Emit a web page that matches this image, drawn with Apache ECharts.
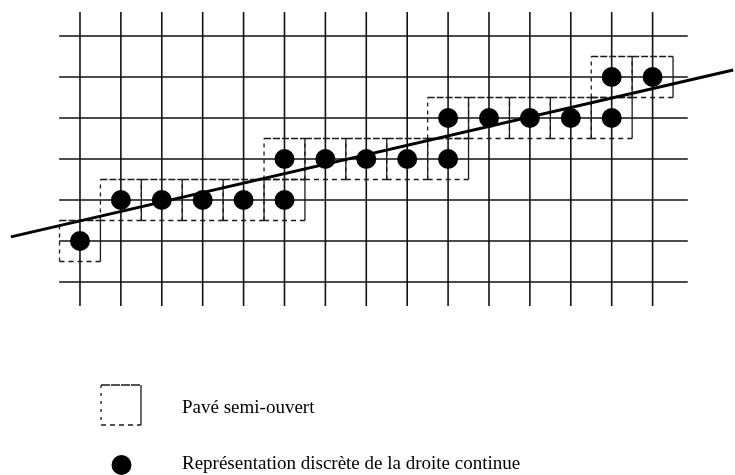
<!DOCTYPE html>
<html>
<head>
<meta charset="utf-8">
<script src="https://cdn.jsdelivr.net/npm/echarts@6/dist/echarts.min.js"></script>
<style>html,body{margin:0;padding:0;background:#fff}#c{width:735px;height:475px}</style>
</head>
<body>
<div id="c"></div>
<script>
// ---- data ----
const gridCols = [0,1,2,3,4,5,6,7,8,9,10,11,12,13,14];
const gridRows = [0,1,2,3,4,5,6];
const vLineSpan = [-0.585, 6.585];
const hLineSpan = [-0.51, 14.86];
const dotX = [0, 1,2,3,4,5, 5,6,7,8,9, 9,10,11,12,13, 13,14];
const dotY = [1, 2,2,2,2,2, 3,3,3,3,3, 4,4,4,4,4, 5,5];
const lineX = [-1.69, 15.97];
const lineY = [1.10, 5.17];
const legendLabels = ['Pavé semi-ouvert', 'Représentation discrète de la droite continue'];

const dots = dotX.map((x, i) => [x, dotY[i]]);
const INK = '#111';
const DASH = '#1a1a1a';

function seg(p1, p2, style) {
  return { type: 'line', shape: { x1: p1[0], y1: p1[1], x2: p2[0], y2: p2[1] }, style: style, silent: true };
}

const chart = echarts.init(document.getElementById('c'), null, { renderer: 'canvas' });
chart.setOption({
  animation: false,
  backgroundColor: '#fff',
  grid: { left: 8.4, width: 726, top: 5.25, height: 317.75 },
  xAxis: { type: 'value', min: -1.75, max: 16, show: false },
  yAxis: { type: 'value', min: -1, max: 6.75, show: false },
  series: [
    {
      type: 'custom', clip: false, z: 1,
      data: gridCols.map(c => [c]),
      renderItem: (params, api) => {
        const c = api.value(0);
        return seg(api.coord([c, vLineSpan[0]]), api.coord([c, vLineSpan[1]]), { stroke: INK, lineWidth: 1.6 });
      }
    },
    {
      type: 'custom', clip: false, z: 1,
      data: gridRows.map(r => [0, r]),
      renderItem: (params, api) => {
        const r = api.value(1);
        return seg(api.coord([hLineSpan[0], r]), api.coord([hLineSpan[1], r]), { stroke: INK, lineWidth: 1.6 });
      }
    },
    {
      type: 'custom', clip: false, z: 2,
      data: dots,
      renderItem: (params, api) => {
        const x = api.value(0), y = api.value(1);
        const tl = api.coord([x - 0.5, y + 0.5]);
        const tr = api.coord([x + 0.5, y + 0.5]);
        const bl = api.coord([x - 0.5, y - 0.5]);
        const br = api.coord([x + 0.5, y - 0.5]);
        return {
          type: 'group',
          children: [
            seg(tl, tr, { stroke: DASH, lineWidth: 1.3, lineDash: [7, 2] }),
            seg(tr, br, { stroke: DASH, lineWidth: 1.3 }),
            seg(bl, tl, { stroke: DASH, lineWidth: 1.3, lineDash: [4, 4] }),
            seg(bl, br, { stroke: DASH, lineWidth: 1.3, lineDash: [5, 4] })
          ]
        };
      }
    },
    {
      type: 'line', z: 3, clip: false,
      data: lineX.map((x, i) => [x, lineY[i]]),
      symbol: 'none',
      lineStyle: { color: '#000', width: 3 }
    },
    {
      type: 'scatter', z: 4,
      data: dots,
      symbol: 'circle', symbolSize: 20,
      itemStyle: { color: '#000', opacity: 1 }
    }
  ],
  graphic: [
    { type: 'line', shape: { x1: 101, y1: 385, x2: 141, y2: 385 }, style: { stroke: DASH, lineWidth: 1.3, lineDash: [9, 1] } },
    { type: 'line', shape: { x1: 141, y1: 385, x2: 141, y2: 425 }, style: { stroke: DASH, lineWidth: 1.3 } },
    { type: 'line', shape: { x1: 101, y1: 385, x2: 101, y2: 425 }, style: { stroke: DASH, lineWidth: 1.3, lineDash: [3, 5] } },
    { type: 'line', shape: { x1: 101, y1: 425, x2: 141, y2: 425 }, style: { stroke: DASH, lineWidth: 1.3, lineDash: [5, 4] } },
    { type: 'text', left: 182, top: 399, style: { text: legendLabels[0], font: '19px "Liberation Serif", "DejaVu Serif", serif', fill: '#000' } },
    { type: 'circle', shape: { cx: 121.5, cy: 465, r: 10 }, style: { fill: '#000' } },
    { type: 'text', left: 182, top: 455, style: { text: legendLabels[1], font: '19px "Liberation Serif", "DejaVu Serif", serif', fill: '#000' } }
  ]
});
</script>
</body>
</html>
